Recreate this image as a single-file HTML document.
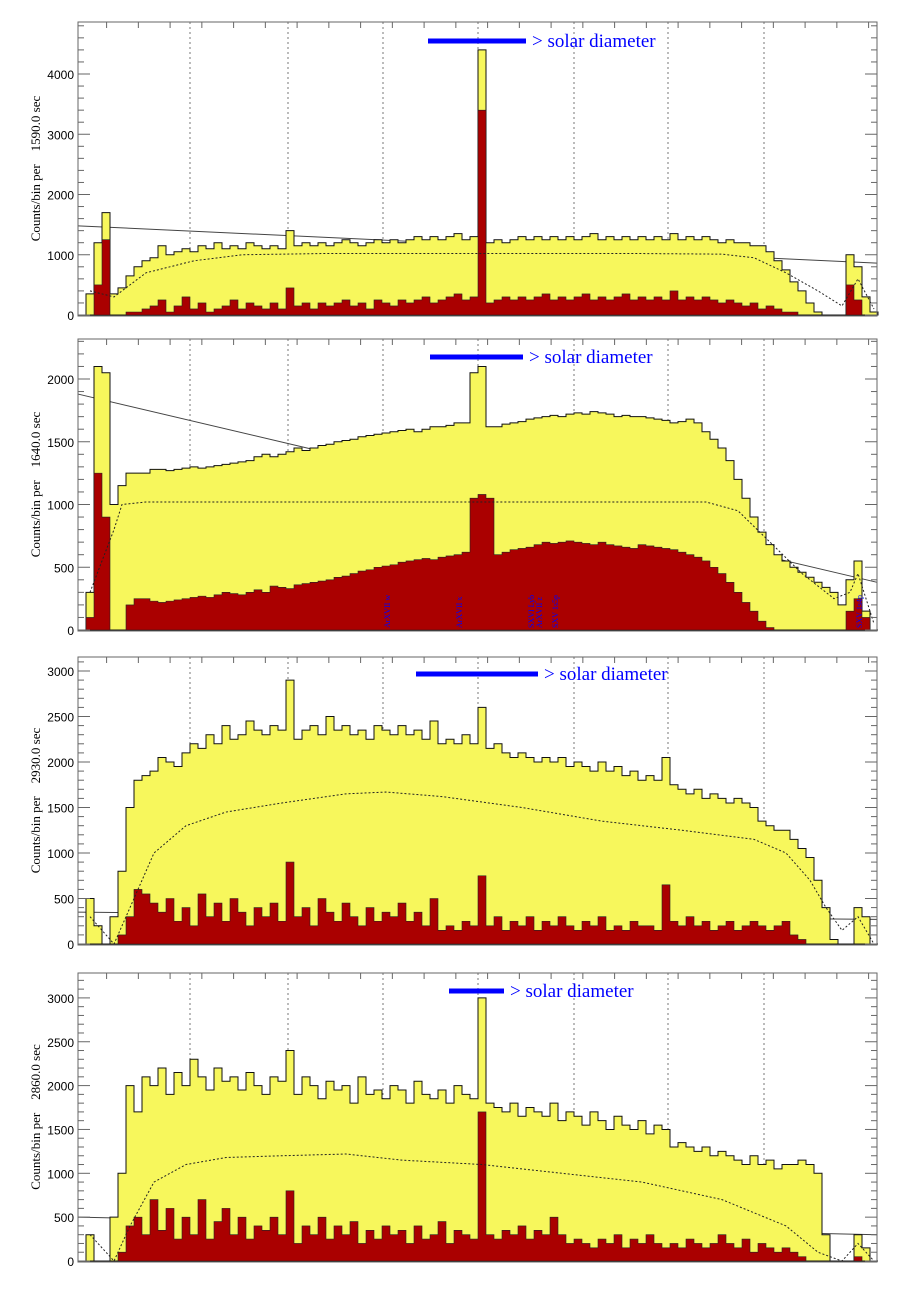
<!DOCTYPE html>
<html><head><meta charset="utf-8"><style>
body{margin:0;background:#fff}
svg{display:block}
</style></head><body>
<svg id="c" width="913" height="1289" xmlns="http://www.w3.org/2000/svg"></svg>
<script>
const p1Yellow=[0,350,1200,1700,350,450,650,800,900,950,1150,1000,1050,1100,1050,1150,1100,1200,1100,1150,1100,1200,1150,1100,1150,1100,1400,1150,1200,1150,1200,1150,1200,1250,1200,1150,1200,1250,1200,1250,1200,1250,1300,1250,1300,1250,1300,1350,1250,1300,4400,1200,1250,1200,1250,1300,1250,1300,1250,1300,1250,1300,1250,1300,1350,1250,1300,1250,1300,1250,1300,1250,1300,1250,1350,1250,1300,1250,1300,1250,1200,1250,1200,1200,1150,1150,1050,900,750,550,400,200,50,0,0,0,1000,800,300,50];
const p1Red=[0,0,500,1250,0,0,50,50,100,150,250,50,150,300,100,200,50,100,150,250,100,200,150,100,200,100,450,150,200,100,200,150,200,250,150,200,100,250,200,150,250,200,250,300,200,250,300,350,250,300,3400,200,250,300,250,300,250,300,350,250,300,250,300,350,250,300,250,300,350,250,300,250,300,250,400,250,300,250,300,250,200,250,200,150,200,100,150,100,50,50,0,0,0,0,0,0,500,250,0,0];
const p2Yellow=[0,300,2100,2050,1000,1150,1250,1250,1250,1280,1280,1270,1280,1290,1300,1290,1300,1310,1320,1330,1340,1350,1380,1400,1380,1400,1420,1450,1430,1450,1470,1480,1500,1510,1520,1540,1550,1560,1570,1580,1590,1600,1580,1600,1620,1620,1630,1650,1650,2050,2100,1620,1620,1640,1650,1660,1680,1690,1700,1710,1700,1720,1730,1720,1740,1730,1720,1700,1710,1700,1700,1690,1680,1670,1650,1660,1680,1650,1580,1520,1450,1350,1200,1050,900,780,680,600,550,500,460,420,380,340,300,200,400,550,150,0];
const p2Red=[0,100,1250,900,0,0,200,250,250,230,220,230,240,250,260,270,260,280,300,290,280,300,320,300,350,340,330,360,370,380,390,400,420,430,450,470,480,500,510,520,540,550,560,570,560,580,590,600,620,1050,1080,1050,600,620,640,650,660,680,700,690,700,710,700,690,680,700,680,670,660,650,680,670,660,650,640,620,600,580,550,500,450,380,300,220,150,70,20,0,0,0,0,0,0,0,0,0,150,250,100,0];
const p3Yellow=[0,500,200,0,300,800,1500,1800,1850,1900,2050,2000,1950,2100,2200,2150,2300,2200,2400,2250,2300,2450,2350,2300,2400,2350,2900,2250,2350,2400,2300,2500,2350,2400,2300,2350,2250,2400,2350,2300,2400,2300,2350,2250,2450,2200,2250,2200,2300,2200,2600,2150,2200,2100,2050,2100,2050,2000,2050,2000,2050,1950,2000,1950,1900,2000,1900,1950,1850,1900,1800,1850,1800,2050,1750,1700,1650,1700,1600,1650,1600,1550,1600,1550,1500,1350,1300,1250,1250,1150,1050,950,700,400,50,0,0,400,300,0];
const p3Red=[0,0,0,0,0,100,300,600,550,450,350,500,250,400,200,550,300,450,250,500,350,200,400,300,450,250,900,300,400,200,500,350,250,450,300,200,400,250,350,300,450,250,350,200,500,150,200,150,250,200,750,200,300,150,250,200,300,150,250,200,300,200,150,250,200,300,150,200,150,250,200,200,150,650,250,200,300,200,250,150,200,250,150,200,250,200,150,200,250,100,50,0,0,0,0,0,0,0,0,0];
const p4Yellow=[0,300,0,0,500,1000,2000,1700,2100,2000,2200,1900,2150,2000,2300,2100,1950,2200,2050,2100,1950,2150,2000,1900,2100,2050,2400,1900,2100,2000,1850,2050,1950,2000,1800,2100,1900,1950,1850,2000,1950,1800,2050,1900,1850,1950,1800,2000,1900,1850,3000,1800,1750,1700,1800,1650,1750,1700,1650,1800,1600,1700,1650,1550,1700,1600,1500,1650,1550,1500,1600,1450,1550,1500,1300,1350,1300,1250,1300,1200,1250,1200,1150,1100,1200,1100,1150,1050,1100,1100,1150,1100,1000,300,0,0,0,300,150,0];
const p4Red=[0,0,0,0,0,100,400,500,300,700,350,600,250,500,300,700,250,450,600,300,500,250,400,350,500,300,800,200,400,300,500,250,400,300,450,200,350,250,400,300,350,200,400,250,300,450,200,350,300,250,1700,300,250,350,300,400,250,350,300,500,300,200,250,200,150,250,200,300,150,250,200,300,200,150,200,150,250,200,150,200,300,200,150,250,100,200,150,100,150,100,50,0,0,0,0,0,0,50,0,0];
const p1Fit=[1480,860], p2Fit=[1880,380], p3Fit=[350,270], p4Fit=[500,300];
const p1DotIdx=[1,4,8,14,20,30,40,50,60,70,80,84,88,92,95,97,99], p1DotVal=[400,300,700,900,1000,1020,1020,1020,1020,1020,1010,950,700,400,150,600,100];
const p2DotIdx=[1,4,5,8,20,40,60,78,82,86,90,94,96,97,99], p2DotVal=[300,800,1000,1020,1020,1020,1020,1020,950,700,450,250,300,450,50];
const p3DotIdx=[1,3,4,6,9,13,18,25,33,38,45,55,65,75,84,88,91,93,95,97,99], p3DotVal=[300,100,0,400,1000,1300,1450,1550,1650,1670,1620,1500,1350,1250,1150,1000,700,400,150,300,0];
const p4DotIdx=[1,3,4,6,9,13,18,25,33,40,50,60,70,75,80,84,88,92,95,97,99], p4DotVal=[300,100,0,400,900,1100,1180,1200,1220,1150,1100,1000,900,800,700,550,400,100,0,200,0];
const yTicks1=[0,1000,2000,3000,4000], yTicks2=[0,500,1000,1500,2000], yTicks3=[0,500,1000,1500,2000,2500,3000], yTicks4=[0,500,1000,1500,2000,2500,3000];
const expTimes=["1590.0","1640.0","2930.0","2860.0"];
const lineLabels=["ArXVII w","ArXVII x","SXVI Lyb","ArXVII z","SXV 1s5p","SXV 1s4p"];
const lineLabelIdx=[38,47,56,57,59,97];

const svg=document.getElementById('c');
const NS='http://www.w3.org/2000/svg';
function mk(tag,attrs,parent){const e=document.createElementNS(NS,tag);for(const k in attrs)e.setAttribute(k,attrs[k]);(parent||svg).appendChild(e);return e;}
const X0=78,X1=877,BW=8;
const xPix=i=>X0+i*BW;
const panels=[
 {top:22,y0:315,s:60.25,yel:p1Yellow,red:p1Red,fit:p1Fit,di:p1DotIdx,dv:p1DotVal,ticks:yTicks1,minor:200,bar:[428,526],bary:41},
 {top:339,y0:630,s:125.5,yel:p2Yellow,red:p2Red,fit:p2Fit,di:p2DotIdx,dv:p2DotVal,ticks:yTicks2,minor:100,bar:[430,523],bary:357},
 {top:657,y0:944,s:91,yel:p3Yellow,red:p3Red,fit:p3Fit,di:p3DotIdx,dv:p3DotVal,ticks:yTicks3,minor:100,bar:[416,538],bary:674},
 {top:973,y0:1261,s:87.7,yel:p4Yellow,red:p4Red,fit:p4Fit,di:p4DotIdx,dv:p4DotVal,ticks:yTicks4,minor:100,bar:[449,504],bary:991}
];
function stepPath(vals,yS,y0){let d='M'+X0+','+y0;vals.forEach((v,i)=>{d+=' L'+xPix(i)+','+yS(v)+' L'+xPix(i+1)+','+yS(v);});d+=' L'+xPix(vals.length)+','+y0+' Z';return d;}
panels.forEach((p,k)=>{
 const g=mk('g',{});
 
 
 const yS=v=>Math.max(p.top,p.y0-v*p.s/1000);
 [190,288,383,478,574,668,764].forEach(x=>{const l=mk('line',{x1:x,x2:x,y1:p.top,y2:p.y0,stroke:'#777','stroke-width':1,'stroke-dasharray':'2,3'},g);});
 const fl=mk('line',{x1:X0,x2:X1,y1:yS(p.fit[0]),y2:yS(p.fit[1]),stroke:'#444','stroke-width':1},g);
 
 const ye=mk('path',{d:stepPath(p.yel,yS,p.y0),fill:'#f7f75c',stroke:'#111','stroke-width':1},g);
 
 const re=mk('path',{d:stepPath(p.red,yS,p.y0),fill:'#aa0000',stroke:'#222','stroke-width':0.6},g);
 
 const pts=p.di.map((idx,j)=>(xPix(idx)+BW/2)+','+yS(p.dv[j])).join(' ');
 const dl=mk('polyline',{points:pts,fill:'none',stroke:'#222','stroke-width':1,'stroke-dasharray':'2,2'},g);
 
 const fr=mk('rect',{x:X0,y:p.top,width:X1-X0,height:p.y0-p.top+1,fill:'none',stroke:'#666','stroke-width':1},g);
 
 for(let x=106.6;x<X1;x+=31.75){mk('line',{x1:x,x2:x,y1:p.top,y2:p.top+6,stroke:'#666'},g);}
 const mx=(p.y0-p.top)/p.s*1000;
 for(let v=0;v<=mx;v+=p.minor){const y=yS(v);const maj=p.ticks.includes(v);mk('line',{x1:X0,x2:X0+(maj?12:6),y1:y,y2:y,stroke:'#666'},g);mk('line',{x1:X1,x2:X1-(maj?12:6),y1:y,y2:y,stroke:'#666'},g);}
 p.ticks.forEach(v=>{const t=mk('text',{x:X0-4,y:yS(v)+5,'text-anchor':'end','font-family':'Liberation Sans, sans-serif','font-size':12,fill:'#000'},g);t.textContent=v;});
 const cy=(p.top+p.y0)/2;
 const yl=mk('text',{x:40,y:cy,transform:'rotate(-90 40 '+cy+')','text-anchor':'middle','font-family':'Liberation Serif, serif','font-size':13,fill:'#000',style:'white-space:pre'},g);
 yl.textContent='Counts/bin per    '+expTimes[k]+' sec';
 
 const br=mk('rect',{x:p.bar[0],y:p.bary-2.5,width:p.bar[1]-p.bar[0],height:5,fill:'#0000ff'},g);
 
 const bt=mk('text',{x:p.bar[1]+6,y:p.bary+6,'font-family':'Liberation Serif, serif','font-size':19,fill:'#0000ff'},g);
 bt.textContent='> solar diameter';
 
 if(k===1){lineLabels.forEach((s,j)=>{const x=xPix(lineLabelIdx[j])+BW/2+4;const t=mk('text',{x:x,y:628,transform:'rotate(-90 '+x+' 628)','font-family':'Liberation Serif, serif','font-size':8,fill:'#0000ff'},g);t.textContent=s;});}
});
</script>
</body></html>
